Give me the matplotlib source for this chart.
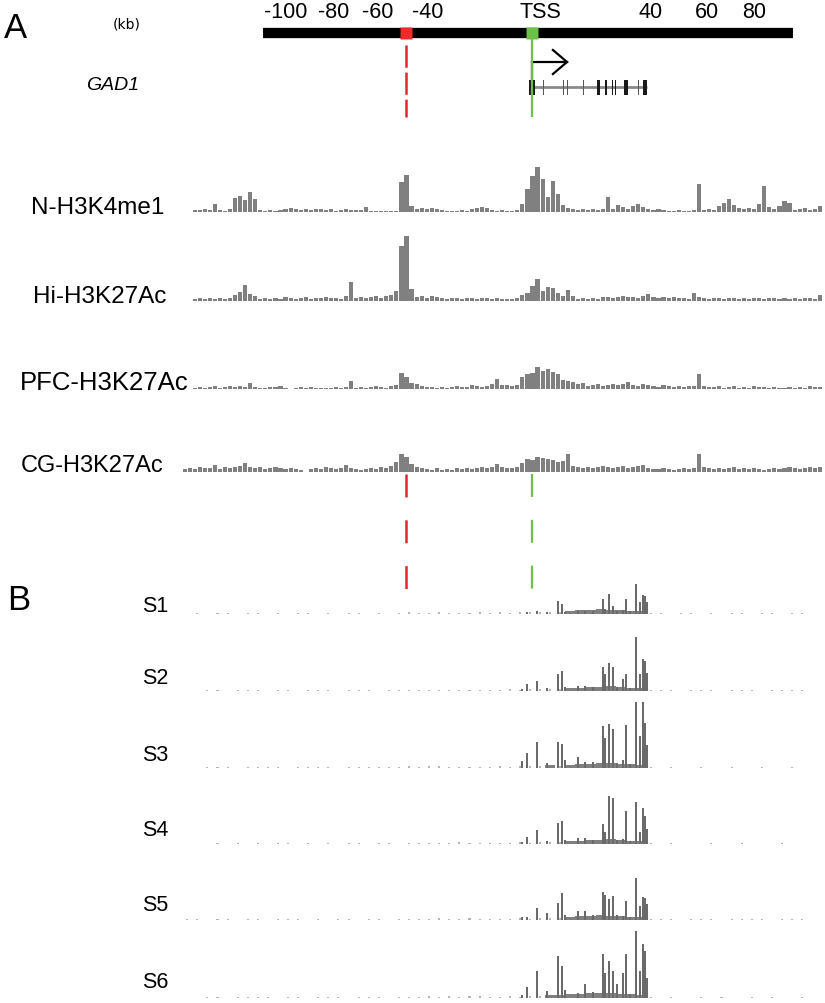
import numpy as np
import matplotlib
matplotlib.use("Agg")
import matplotlib.pyplot as plt

plt.rcParams['font.family'] = ['Liberation Sans', 'DejaVu Sans']
plt.rcParams['lines.scale_dashes'] = False

W, H = 825, 1004

# ---------------- data (kb relative to GAD1 TSS) ----------------
RULER_LABELS = ['-100', '-80', '-60', '-40', 'TSS', '40', '60', '80']
RULER_LABEL_KB = [-97.6, -78.6, -61.1, -41.3, 3.2, 47.2, 69.4, 88.1]
RULER_START_KB, RULER_END_KB = -106.7, 103.6
ENHANCER_KB = -50.0
TSS_KB = 0.0

GENE_START_KB, GENE_END_KB = -0.8, 45.6
EXON_START_KB = [-1.2, 4.4, 12.3, 13.9, 20.2, 25.8, 29.0, 31.7, 32.9, 36.5, 42.1, 44.0]
EXON_END_KB = [1.2, 4.8, 12.6, 14.2, 20.5, 27.0, 29.8, 32.1, 33.3, 38.1, 42.5, 45.6]
EXON_DARK = [1, 0, 0, 0, 0, 1, 1, 1, 1, 1, 0, 1]

BIN_START_KB = -138.8
BIN_KB = 2.0

N_H3K4me1 = [0, 0, 2, 2, 3, 2, 8, 2, 1, 3,
             14, 16, 12, 20, 13, 2, 1, 2, 1, 2,
             3, 4, 3, 2, 3, 2, 3, 3, 2, 3,
             1, 2, 3, 2, 2, 2, 5, 1, 1, 1,
             1, 1, 1, 30, 37, 6, 3, 4, 3, 4,
             3, 2, 1, 1, 1, 2, 1, 3, 4, 5,
             4, 2, 1, 2, 1, 1, 2, 8, 23, 36,
             45, 33, 15, 31, 18, 7, 4, 3, 2, 3,
             2, 3, 2, 3, 15, 3, 7, 5, 3, 6,
             8, 5, 3, 2, 3, 2, 1, 1, 2, 1,
             1, 2, 28, 2, 3, 2, 6, 9, 13, 7,
             4, 3, 4, 3, 8, 26, 5, 3, 6, 11,
             9, 2, 3, 4, 2, 3, 6]

Hi_H3K27Ac = [0, 0, 2, 3, 2, 3, 2, 3, 2, 3,
              6, 9, 16, 7, 5, 2, 3, 2, 3, 2,
              4, 3, 2, 3, 4, 2, 3, 3, 4, 3,
              3, 2, 5, 19, 3, 4, 3, 4, 5, 3,
              5, 6, 10, 55, 65, 12, 4, 5, 3, 5,
              4, 3, 2, 3, 3, 2, 3, 3, 2, 3,
              3, 2, 3, 2, 2, 2, 3, 6, 8, 15,
              22, 10, 14, 13, 8, 5, 11, 5, 2, 3,
              2, 3, 2, 4, 4, 3, 4, 5, 4, 4,
              3, 5, 7, 4, 3, 4, 3, 4, 3, 3,
              2, 8, 4, 3, 2, 3, 3, 2, 3, 3,
              2, 3, 2, 3, 3, 2, 3, 3, 2, 3,
              2, 3, 2, 3, 3, 2, 6]

PFC_H3K27Ac = [0, 0, 1, 2, 1, 2, 3, 1, 2, 3,
               2, 3, 2, 6, 2, 1, 1, 2, 2, 3,
               1, 0, 1, 2, 1, 2, 1, 1, 1, 1,
               2, 1, 2, 8, 1, 2, 1, 2, 3, 2,
               1, 3, 4, 16, 12, 6, 5, 3, 2, 2,
               1, 2, 1, 2, 3, 2, 2, 4, 3, 2,
               3, 5, 10, 4, 4, 3, 4, 12, 15, 16,
               22, 18, 20, 17, 15, 9, 8, 7, 5, 6,
               3, 4, 5, 3, 4, 5, 4, 5, 7, 4,
               3, 5, 4, 3, 2, 4, 3, 2, 3, 2,
               3, 3, 15, 3, 2, 2, 3, 1, 2, 3,
               1, 2, 1, 3, 2, 2, 1, 2, 1, 1,
               2, 1, 2, 1, 3, 2, 2]

CG_H3K27Ac = [3, 4, 3, 5, 4, 4, 7, 3, 5, 4,
              5, 6, 9, 5, 4, 5, 3, 4, 5, 4,
              3, 4, 3, 2, 0, 3, 4, 3, 5, 4,
              3, 4, 7, 4, 3, 2, 3, 4, 3, 5,
              4, 6, 10, 18, 15, 8, 5, 4, 3, 2,
              4, 2, 3, 2, 4, 3, 4, 3, 4, 5,
              4, 5, 8, 5, 4, 4, 5, 9, 13, 12,
              15, 14, 13, 12, 10, 11, 18, 6, 5, 4,
              5, 4, 5, 6, 5, 4, 5, 6, 4, 5,
              6, 7, 4, 3, 3, 4, 3, 2, 3, 4,
              3, 4, 18, 5, 4, 3, 4, 3, 4, 5,
              3, 4, 3, 4, 3, 2, 3, 4, 3, 4,
              5, 4, 3, 4, 5, 4, 5]

A_TRACK_NAMES = ['N-H3K4me1', 'Hi-H3K27Ac', 'PFC-H3K27Ac', 'CG-H3K27Ac']
A_TRACKS = [N_H3K4me1, Hi_H3K27Ac, PFC_H3K27Ac, CG_H3K27Ac]

# methylation-site signal (panel B)
S_SITE_KB = [-4.0, -2.0, 2.0, 6.0, 10.3, 11.9, 13.1, 18.3, 21.0, 24.2, 28.2, 29.0,
             30.6, 32.1, 33.7, 36.1, 37.3, 38.9, 41.3, 42.9, 44.0, 44.8, 45.6]
S1 = [0, 2, 3, 2, 13, 10, 2, 3, 3, 3, 15, 5, 20, 8, 3, 4, 15, 3, 30, 12, 19, 18, 12]
S2 = [2, 7, 10, 3, 17, 20, 4, 5, 5, 4, 24, 17, 28, 24, 4, 12, 17, 3, 54, 17, 32, 30, 18]
S3 = [7, 15, 26, 5, 26, 24, 8, 11, 6, 6, 42, 30, 44, 39, 5, 8, 43, 4, 66, 32, 66, 45, 23]
S4 = [2, 7, 14, 3, 21, 23, 4, 6, 6, 4, 20, 12, 48, 46, 4, 5, 33, 3, 42, 12, 36, 28, 15]
S5 = [3, 3, 12, 7, 17, 27, 5, 9, 9, 5, 28, 25, 21, 24, 5, 4, 19, 3, 42, 14, 23, 22, 16]
S6 = [3, 11, 27, 7, 42, 32, 8, 5, 14, 6, 44, 25, 37, 27, 14, 25, 44, 4, 67, 27, 54, 47, 20]

BG_BIN_KB = 4.0
S1_bg = [0, 1, 0, 1, 1, 0, 1, 1, 0, 1, 0, 1, 1, 0, 1, 0, 1, 1, 0, 1, 0, 1,
         2, 1, 1, 2, 1, 1, 1, 2, 1, 2, 1, 2, 2, 2, 2,
         2, 3, 4, 4, 5, 4, 4, 3, 3, 1,
         1, 0, 1, 1, 0, 1, 0, 1, 1, 0, 1, 1, 0, 1, 1, 0]
S2_bg = [0, 0, 1, 1, 0, 1, 1, 1, 0, 1, 1, 0, 1, 1, 1, 0, 1, 1, 1, 0, 1, 1,
         1, 1, 1, 1, 1, 1, 1, 1, 1, 1, 2, 1, 2, 2, 2,
         2, 3, 3, 4, 4, 5, 4, 3, 3, 1,
         1, 1, 0, 1, 1, 1, 0, 1, 1, 1, 0, 1, 1, 1, 1, 0]
S3_bg = [0, 0, 1, 1, 1, 0, 1, 1, 1, 1, 0, 1, 1, 1, 1, 0, 1, 1, 1, 1, 1, 1,
         2, 1, 2, 2, 1, 1, 1, 1, 1, 2, 1, 2, 2, 2, 3,
         2, 3, 4, 4, 5, 5, 4, 4, 3, 1,
         0, 1, 0, 0, 1, 0, 0, 1, 0, 0, 1, 0, 0, 1, 0, 0]
S4_bg = [0, 0, 0, 1, 0, 1, 0, 1, 0, 1, 1, 0, 1, 0, 1, 0, 1, 1, 0, 1, 1, 0,
         1, 1, 1, 1, 1, 2, 1, 1, 1, 1, 1, 2, 1, 2, 2,
         2, 3, 3, 4, 4, 5, 4, 3, 3, 1,
         0, 1, 0, 0, 0, 1, 0, 0, 1, 0, 0, 0, 1, 0, 0, 0]
S5_bg = [1, 1, 0, 1, 1, 0, 1, 1, 0, 1, 1, 1, 0, 1, 0, 1, 1, 0, 1, 1, 0, 1,
         1, 1, 1, 2, 1, 1, 2, 1, 1, 1, 1, 2, 1, 2, 2,
         2, 3, 4, 4, 5, 4, 4, 3, 3, 1,
         1, 1, 0, 1, 1, 1, 0, 1, 1, 1, 1, 0, 1, 1, 1, 0]
S6_bg = [0, 0, 1, 1, 0, 1, 1, 1, 1, 0, 1, 1, 0, 1, 1, 1, 0, 1, 1, 1, 0, 1,
         1, 1, 2, 1, 2, 1, 2, 2, 1, 1, 2, 1, 2, 2, 3,
         3, 4, 4, 5, 5, 5, 4, 4, 3, 1,
         0, 1, 0, 0, 1, 0, 1, 0, 0, 1, 0, 1, 0, 0, 1, 0]

S_NAMES = ['S1', 'S2', 'S3', 'S4', 'S5', 'S6']
S_TRACKS = [S1, S2, S3, S4, S5, S6]
S_BG = [S1_bg, S2_bg, S3_bg, S4_bg, S5_bg, S6_bg]

# ---------------- style / layout ----------------
RED = '#e3262b'
GREEN = '#6cbf47'
TRACK_GRAY = '#808080'
LIGHT_GRAY = '#b4b4b4'
XL = ((180 - 532) / 2.52, (825 - 532) / 2.52)

fig = plt.figure(figsize=(W / 100, H / 100), dpi=100)


def px_axes(x0, y0, x1, y1):
    ax = fig.add_axes([x0 / W, 1 - y1 / H, (x1 - x0) / W, (y1 - y0) / H])
    ax.set_axis_off()
    ax.patch.set_visible(False)
    return ax


def ftext(x, y, s, **kw):
    fig.text(x / W, 1 - y / H, s, **kw)


# ---- top: ruler + gene model ----
top = px_axes(180, 0, 825, 125)
top.set_xlim(*XL)
top.set_ylim(125, 0)
top.hlines(34, RULER_START_KB, RULER_END_KB, color='black', lw=7.4, capstyle='butt')
for lab, kb in zip(RULER_LABELS, RULER_LABEL_KB):
    top.text(kb, 13, lab, ha='center', va='center', fontsize=15.5)
top.vlines(ENHANCER_KB, 46, 118, colors=RED, lw=1.8, linestyles=[(0, (16, 3.5))])
top.vlines(TSS_KB, 40, 118, colors=GREEN, lw=1.6, zorder=5)
top.plot([ENHANCER_KB], [34], 's', ms=8.8, color='#ee2a2a', mec='none', zorder=6)
top.plot([TSS_KB], [34], 's', ms=8.8, color=GREEN, mec='none', zorder=6)
# gene
top.hlines(88, GENE_START_KB, GENE_END_KB, color='#8a8a8a', lw=2)
for s, e, d in zip(EXON_START_KB, EXON_END_KB, EXON_DARK):
    top.bar(s, 15, width=e - s, bottom=80.5, align='edge',
            color='#1a1a1a' if d else '#555555', linewidth=0, zorder=3)
top.plot([TSS_KB, TSS_KB], [63, 88], color='black', lw=1.6, zorder=4)
top.plot([TSS_KB, 13.9], [63, 63], color='black', lw=1.6, zorder=4)
top.plot([8.3, 13.9, 8.3], [51, 63, 75], color='black', lw=1.6, zorder=4,
         solid_joinstyle='miter')

ftext(15, 29, 'A', fontsize=25, ha='center', va='center')
ftext(127, 25, '(kb)', fontsize=10, ha='center', va='center',
      family=['Liberation Sans Narrow', 'DejaVu Sans'])
ftext(113, 86, 'GAD1', fontsize=14, style='italic', ha='center', va='center')

# ---- panel A tracks ----
A_BASE = [213, 302, 390, 473]
A_LABEL_Y = [208, 297, 383, 466]
A_LABEL_X = [164, 166, 188, 163]
A_LABEL_SIZE = [17.5, 17.5, 18.5, 17]
centers_A = BIN_START_KB + BIN_KB * (np.arange(len(N_H3K4me1)) + 0.5)
for name, vals, base, ly, lx, fs in zip(A_TRACK_NAMES, A_TRACKS, A_BASE, A_LABEL_Y,
                                         A_LABEL_X, A_LABEL_SIZE):
    ax = px_axes(180, base - 75, 825, base)
    ax.set_xlim(*XL)
    ax.set_ylim(0, 75)
    ax.bar(centers_A, vals, width=BIN_KB * 0.82, color=TRACK_GRAY, linewidth=0)
    ftext(lx, ly, name, fontsize=fs, ha='right', va='center')

# lower dashed lines
mid = px_axes(180, 470, 825, 600)
mid.set_xlim(*XL)
mid.set_ylim(600, 470)
mid.vlines(ENHANCER_KB, 475, 591, colors=RED, lw=1.8, linestyles=[(0, (16.5, 16.5))])
mid.vlines(TSS_KB, 475, 591, colors=GREEN, lw=1.6, linestyles=[(0, (16.5, 16.5))])

# ---- panel B tracks ----
ftext(19, 600, 'B', fontsize=25, ha='center', va='center')
S_BASE = [615, 692, 769, 845, 921, 999]
S_LABEL_Y = [606, 679, 756, 830, 906, 983]
centers_bg = BIN_START_KB + BG_BIN_KB * (np.arange(len(S1_bg)) + 0.5)
for name, vals, bg, base, ly in zip(S_NAMES, S_TRACKS, S_BG, S_BASE, S_LABEL_Y):
    ax = px_axes(180, base - 75, 825, base)
    ax.set_xlim(*XL)
    ax.set_ylim(0, 75)
    bg = np.array(bg)
    cols = [TRACK_GRAY if v >= 3 else LIGHT_GRAY for v in bg]
    widths = [BG_BIN_KB if v >= 3 else 0.8 for v in bg]
    ax.bar(centers_bg, bg, width=widths, color=cols, linewidth=0)
    ax.bar(S_SITE_KB, vals, width=0.5, color='#6a6a6a', linewidth=0)
    ftext(168, ly, name, fontsize=15.5, ha='right', va='center')

fig.savefig('out.png', dpi=100)
